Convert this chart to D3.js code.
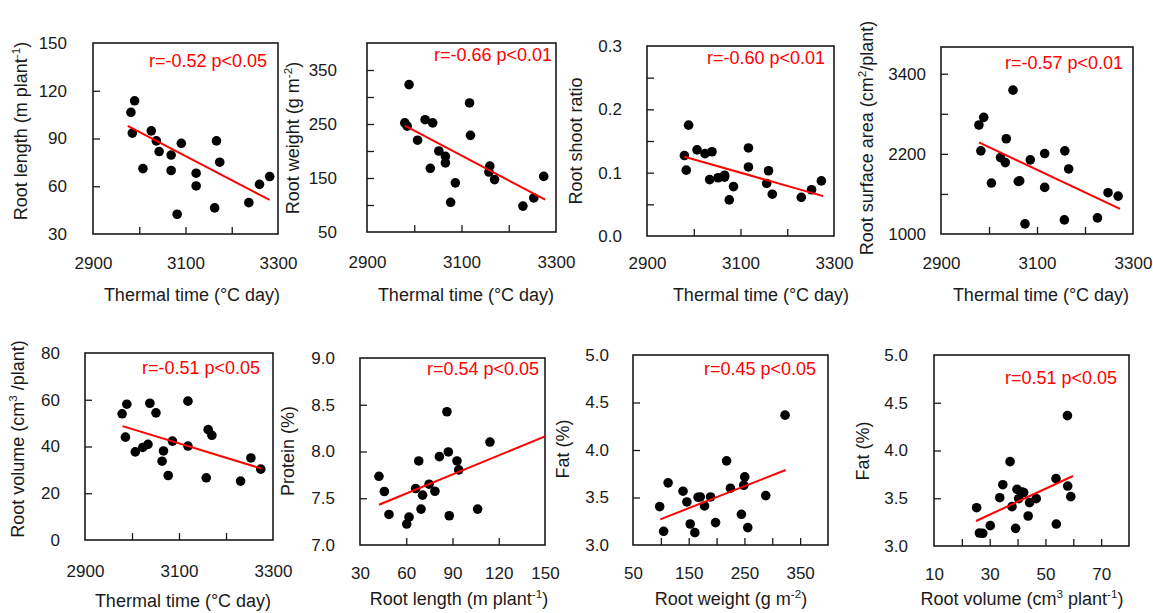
<!DOCTYPE html>
<html>
<head>
<meta charset="utf-8">
<script src="https://cdn.jsdelivr.net/npm/d3@7"></script>
<style>
  html, body { margin: 0; padding: 0; background: #fff; }
  svg { display: block; font-family: "Liberation Sans", Arial, sans-serif; }
</style>
</head>
<body>
<svg id="chart" width="1153" height="613"></svg>
<script>
// ── Data ───────────────────────────────────────────────────────────────────

// Thermal time vs root traits
const ttRootLength  = [2982, 2990, 2985, 3008, 3026, 3037, 3043, 3069, 3069, 3082, 3091, 3123, 3123, 3163, 3167, 3174, 3237, 3260, 3282];
const rootLength    = [106.4, 113.7, 93.4, 71.1, 94.8, 88.5, 81.8, 79.6, 69.9, 42.4, 87, 68.2, 60.2, 46.4, 88.5, 75.1, 49.7, 61.2, 66.1];

const ttRootWeight  = [2980, 2985, 2989, 3007, 3023, 3039, 3034, 3052, 3066, 3066, 3077, 3087, 3117, 3119, 3160, 3158, 3170, 3230, 3253, 3274];
const rootWeight    = [252, 246, 323, 220, 258, 252, 168, 200, 190, 178, 105, 141, 289, 229, 172, 161, 147, 98, 113, 153];

const ttShootRatio  = [2980, 2984, 2989, 3007, 3024, 3039, 3034, 3052, 3066, 3066, 3076, 3085, 3117, 3117, 3160, 3156, 3168, 3230, 3252, 3273];
const shootRatio    = [0.127, 0.104, 0.175, 0.136, 0.130, 0.133, 0.089, 0.092, 0.096, 0.093, 0.057, 0.078, 0.139, 0.109, 0.103, 0.083, 0.066, 0.061, 0.073, 0.087];

const ttSurface     = [2979, 2989, 2983, 3005, 3024, 3034, 3036, 3050, 3061, 3064, 3075, 3086, 3116, 3116, 3157, 3158, 3166, 3226, 3248, 3269];
const surfaceArea   = [2632, 2747, 2245, 1763, 2145, 2069, 2426, 3154, 1788, 1795, 1151, 2110, 2205, 1698, 1211, 2245, 1974, 1241, 1618, 1567];

const ttVolume      = [2979, 2986, 2989, 3007, 3023, 3034, 3038, 3051, 3067, 3064, 3077, 3086, 3119, 3119, 3158, 3162, 3170, 3231, 3253, 3274];
const rootVolume    = [54.0, 44.0, 58.1, 37.7, 39.6, 40.9, 58.5, 54.4, 38.1, 33.7, 27.6, 42.3, 59.4, 40.2, 26.6, 47.2, 44.8, 25.2, 35.1, 30.3];

// Root traits vs grain quality
const lengthVsProtein = [42.3, 45.8, 48.8, 60.3, 61.8, 66.1, 68.1, 69.6, 70.6, 74.8, 78.6, 81.5, 86.4, 87.3, 87.9, 92.9, 94.0, 106.3, 114.3];
const protein         = [7.735, 7.572, 7.327, 7.224, 7.298, 7.604, 7.899, 7.384, 7.533, 7.650, 7.575, 7.945, 8.425, 7.995, 7.313, 7.899, 7.803, 7.384, 8.101];

const weightVsFat   = [97.9, 105, 113, 139.8, 146.7, 152.7, 161, 166.8, 170.7, 178.4, 189.2, 198.2, 218, 224.9, 244.6, 248.8, 250.6, 256, 288.3, 323];
const fatByWeight   = [3.404, 3.144, 3.654, 3.566, 3.453, 3.221, 3.13, 3.503, 3.506, 3.411, 3.506, 3.236, 3.886, 3.598, 3.323, 3.629, 3.717, 3.183, 3.520, 4.367];

const volumeVsFat   = [25.3, 26.3, 27.5, 30.2, 33.6, 34.7, 37.3, 38, 39.3, 39.8, 40.4, 41.6, 42.2, 43.8, 44.3, 46.7, 53.8, 53.9, 58, 57.9, 59.1];
const fatByVolume   = [3.401, 3.136, 3.133, 3.213, 3.506, 3.642, 3.883, 3.412, 3.185, 3.593, 3.496, 3.565, 3.56, 3.314, 3.454, 3.496, 3.705, 3.230, 3.628, 4.365, 3.517];

// Fitted lines: [x0, x1] and [y0, y1]
const trendX = [[2975, 3282], [2980, 3277], [2980, 3277], [2979, 3273], [2980, 3275], [42.3, 150], [99, 324], [25.1, 59.9]];
const trendY = [[97.9, 51.4], [247, 110], [0.125, 0.063], [2371, 1377], [48.7, 30.6], [7.43, 8.162], [3.27, 3.79], [3.262, 3.733]];

// Text
const statLabels = ['r=-0.52 p<0.05', 'r=-0.66 p<0.01', 'r=-0.60 p<0.01', 'r=-0.57 p<0.01',
                    'r=-0.51 p<0.05', 'r=0.54 p<0.05', 'r=0.45 p<0.05', 'r=0.51 p<0.05'];
const xTitles = ['Thermal time (°C day)', 'Thermal time (°C day)', 'Thermal time (°C day)', 'Thermal time (°C day)',
                 'Thermal time (°C day)', 'Root length (m plant^{-1})', 'Root weight (g m^{-2})', 'Root volume (cm^{3} plant^{-1})'];
const yTitles = ['Root length (m plant^{-1})', 'Root weight (g m^{-2})', 'Root shoot ratio', 'Root surface area (cm^{2}/plant)',
                 'Root volume (cm^{3} /plant)', 'Protein (%)', 'Fat (%)', 'Fat (%)'];

// Axis labels / tick marks
const ttLabels = [2900, 3100, 3300];
const ttTicks  = [3000, 3100, 3200];

// ── Panel layout ───────────────────────────────────────────────────────────
// frame: [left, top, right, bottom]; yLabRight: right edge of y labels;
// xLabY: centre of x labels; xt/yt: centre of axis titles; stat: right/centre of r text
const panels = [
  { xs: ttRootLength, ys: rootLength, xDomain: [2900, 3300], yDomain: [30, 150],
    xLabels: ttLabels, xTicks: ttTicks, yLabels: [30, 60, 90, 120, 150], yTicks: [60, 90, 120], yFmt: d3.format('d'), xFmt: d3.format('d'),
    frame: [93, 43, 278, 234], yLabRight: 67, xLabY: 263, xt: [192, 295], yt: [21, 131], stat: [267, 61] },
  { xs: ttRootWeight, ys: rootWeight, xDomain: [2900, 3300], yDomain: [50, 400],
    xLabels: ttLabels, xTicks: ttTicks, yLabels: [50, 150, 250, 350], yTicks: [100, 150, 200, 250, 300, 350], yFmt: d3.format('d'), xFmt: d3.format('d'),
    frame: [367, 43, 556, 232], yLabRight: 337, xLabY: 262, xt: [466, 295], yt: [293, 138], stat: [552, 55] },
  { xs: ttShootRatio, ys: shootRatio, xDomain: [2900, 3300], yDomain: [0, 0.3],
    xLabels: ttLabels, xTicks: ttTicks, yLabels: [0, 0.1, 0.2, 0.3], yTicks: [0.05, 0.1, 0.15, 0.2, 0.25], yFmt: d3.format('.1f'), xFmt: d3.format('d'),
    frame: [647, 46, 834, 236], yLabRight: 622, xLabY: 263, xt: [761, 295], yt: [576, 141], stat: [825, 58] },
  { xs: ttSurface, ys: surfaceArea, xDomain: [2900, 3300], yDomain: [1000, 3800],
    xLabels: ttLabels, xTicks: ttTicks, yLabels: [1000, 2200, 3400], yTicks: [1600, 2200, 2800, 3400], yFmt: d3.format('d'), xFmt: d3.format('d'),
    frame: [941, 47, 1133, 234], yLabRight: 926, xLabY: 263, xt: [1041, 295], yt: [867, 138], stat: [1123, 63] },
  { xs: ttVolume, ys: rootVolume, xDomain: [2900, 3300], yDomain: [0, 80],
    xLabels: ttLabels, xTicks: ttTicks, yLabels: [0, 20, 40, 60, 80], yTicks: [20, 40, 60], yFmt: d3.format('d'), xFmt: d3.format('d'),
    frame: [85, 353, 273, 540], yLabRight: 60, xLabY: 571, xt: [183, 601], yt: [18, 439], stat: [260, 368] },
  { xs: lengthVsProtein, ys: protein, xDomain: [30, 150], yDomain: [7, 9],
    xLabels: [30, 60, 90, 120, 150], xTicks: [60, 90, 120], yLabels: [7, 7.5, 8, 8.5, 9], yTicks: [7.5, 8, 8.5], yFmt: d3.format('.1f'), xFmt: d3.format('d'),
    frame: [360, 358, 545, 545], yLabRight: 335, xLabY: 573, xt: [459, 599], yt: [288, 451], stat: [539, 369] },
  { xs: weightVsFat, ys: fatByWeight, xDomain: [50, 400], yDomain: [3, 5],
    xLabels: [50, 150, 250, 350], xTicks: [100, 150, 200, 250, 300, 350], yLabels: [3, 3.5, 4, 4.5, 5], yTicks: [3.5, 4, 4.5], yFmt: d3.format('.1f'), xFmt: d3.format('d'),
    frame: [633, 355, 828, 545], yLabRight: 609, xLabY: 573, xt: [731, 599], yt: [563, 449], stat: [816, 369] },
  { xs: volumeVsFat, ys: fatByVolume, xDomain: [10, 80], yDomain: [3, 5],
    xLabels: [10, 30, 50, 70], xTicks: [20, 30, 40, 50, 60, 70], yLabels: [3, 3.5, 4, 4.5, 5], yTicks: [3.5, 4, 4.5], yFmt: d3.format('.1f'), xFmt: d3.format('d'),
    frame: [934, 355, 1129, 546], yLabRight: 908, xLabY: 574, xt: [1022, 599], yt: [863, 451], stat: [1117, 378] },
];

const INK = '#1a1a1a';
const RED = '#ff0000';
const TITLE_SIZE = 18;

const svg = d3.select('#chart');

// Writes "text^{sup}" as text with superscript tspans (shifts in px so they cancel)
function richText(sel, str) {
  const shift = Math.round(TITLE_SIZE * 0.4);
  const parts = str.split(/(\^\{[^}]*\})/);
  let raised = false;
  parts.forEach(p => {
    if (!p) return;
    const m = p.match(/^\^\{([^}]*)\}$/);
    if (m) {
      sel.append('tspan').attr('dy', -shift).attr('font-size', TITLE_SIZE * 0.65).text(m[1]);
      raised = true;
    } else {
      const t = sel.append('tspan').text(p);
      if (raised) { t.attr('dy', shift); raised = false; }
    }
  });
}

panels.forEach((p, i) => {
  const [L, T, R, B] = p.frame;
  const x = d3.scaleLinear().domain(p.xDomain).range([L, R]);
  const y = d3.scaleLinear().domain(p.yDomain).range([B, T]);
  const g = svg.append('g');

  // Inward tick marks
  g.append('g').attr('transform', `translate(${L},0)`)
    .call(d3.axisRight(y).tickValues(p.yTicks).tickSize(7).tickFormat(''))
    .call(a => a.select('.domain').remove())
    .selectAll('line').attr('stroke', INK).attr('stroke-width', 1.3);
  g.append('g').attr('transform', `translate(0,${B})`)
    .call(d3.axisTop(x).tickValues(p.xTicks).tickSize(7).tickFormat(''))
    .call(a => a.select('.domain').remove())
    .selectAll('line').attr('stroke', INK).attr('stroke-width', 1.3);

  // Tick labels, set away from the frame
  g.append('g').attr('transform', `translate(${L},0)`)
    .call(d3.axisLeft(y).tickValues(p.yLabels).tickSize(0).tickPadding(L - p.yLabRight).tickFormat(p.yFmt))
    .call(a => a.select('.domain').remove())
    .selectAll('text').attr('fill', INK).attr('font-size', 17).attr('font-family', null);
  g.append('g').attr('transform', `translate(0,${B})`)
    .call(d3.axisBottom(x).tickValues(p.xLabels).tickSize(0).tickPadding(p.xLabY - B - 6).tickFormat(p.xFmt))
    .call(a => a.select('.domain').remove())
    .selectAll('text').attr('fill', INK).attr('font-size', 17).attr('font-family', null);

  // Frame
  g.append('rect').attr('x', L).attr('y', T).attr('width', R - L).attr('height', B - T)
    .attr('fill', 'none').attr('stroke', INK).attr('stroke-width', 1.6);

  // Points
  const pts = p.xs.map((v, k) => [v, p.ys[k]]);
  g.append('g').selectAll('circle').data(pts).join('circle')
    .attr('cx', d => x(d[0])).attr('cy', d => y(d[1])).attr('r', 4.8)
    .attr('fill', '#000');

  // Fitted line
  const line = d3.line().x(d => x(d[0])).y(d => y(d[1]));
  g.append('path')
    .attr('d', line(trendX[i].map((v, k) => [v, trendY[i][k]])))
    .attr('fill', 'none').attr('stroke', RED).attr('stroke-width', 2);

  // r / p label
  g.append('text').attr('x', p.stat[0]).attr('y', p.stat[1]).attr('dy', '0.35em')
    .attr('text-anchor', 'end').attr('fill', RED).attr('font-size', 18)
    .text(statLabels[i]);

  // Axis titles
  const xt = g.append('text').attr('x', p.xt[0]).attr('y', p.xt[1]).attr('dy', '0.35em')
    .attr('text-anchor', 'middle').attr('fill', INK).attr('font-size', TITLE_SIZE);
  richText(xt, xTitles[i]);

  const yt = g.append('text').attr('transform', `translate(${p.yt[0]},${p.yt[1]}) rotate(-90)`)
    .attr('dy', '0.35em').attr('text-anchor', 'middle').attr('fill', INK).attr('font-size', TITLE_SIZE);
  richText(yt, yTitles[i]);
});
</script>
</body>
</html>
